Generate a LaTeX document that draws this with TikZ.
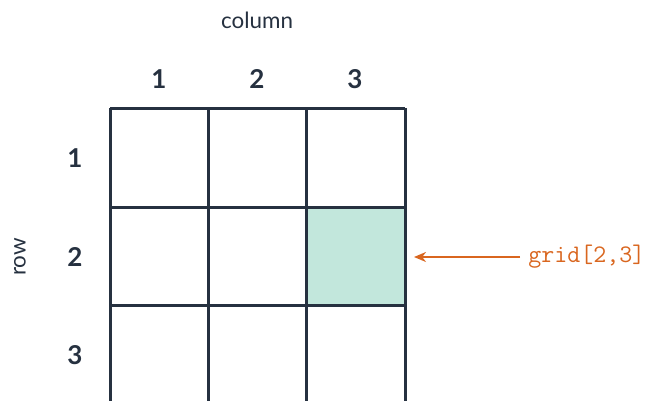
\documentclass[tikz,border=0pt]{standalone}
\usepackage{fontspec}
\setmainfont{Lato}
\setmonofont{Latin Modern Mono}
\usetikzlibrary{arrows.meta}
\definecolor{ink}{HTML}{263140}
\definecolor{cellgreen}{HTML}{C2E7DC}
\definecolor{accent}{HTML}{D9661F}
\tikzset{
  gridline/.style={draw=ink, line width=1.5pt},
  idx/.style={text=ink, font=\fontsize{13}{15}\selectfont\bfseries, inner sep=0pt, anchor=center},
  axislbl/.style={text=ink, font=\fontsize{11.2}{13}\selectfont, inner sep=0pt},
  callout/.style={text=accent, font=\fontsize{12.6}{14}\ttfamily, inner sep=0pt, anchor=west},
  pointer/.style={draw=accent, line width=1.1pt, -{Stealth[length=6pt,width=5pt]}}
}
\begin{document}
\begin{tikzpicture}[x=0.5pt,y=-0.5pt]
\useasboundingbox (0,0) rectangle (651,401);
% highlighted cell
\node[fill=cellgreen, minimum width=49pt, minimum height=49pt, inner sep=0pt] (cell) at (355.5,256) {};
% grid lines
\foreach \yy in {108,207,305} \draw[gridline] (110,\yy) -- (405,\yy);
\foreach \xx in {110,208,306,405} \draw[gridline] (\xx,108) -- (\xx,401);
% column indices
\node[idx] (c1) at (159,79) {1};
\node[idx] (c2) at (257,79) {2};
\node[idx] (c3) at (355,79) {3};
\node[axislbl] (coltitle) at (257,20) {column};
% row indices
\node[idx] (r1) at (75,158) {1};
\node[idx] (r2) at (75,257) {2};
\node[idx] (r3) at (75,355) {3};
\node[axislbl, rotate=90] (rowtitle) at (20,257) {row};
% callout
\node[callout] (lbl) at (528,257) {grid[2,3]};
\coordinate (tip) at (414,257);
\draw[pointer] ([xshift=-4pt]lbl.west |- tip) -- (tip);
\end{tikzpicture}
\end{document}
